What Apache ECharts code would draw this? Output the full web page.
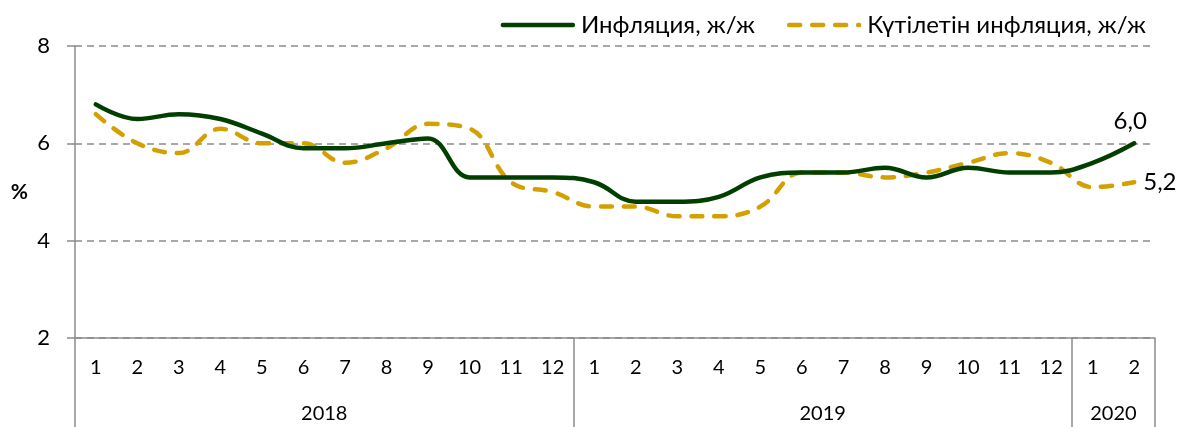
<!DOCTYPE html>
<html>
<head>
<meta charset="utf-8">
<script src="https://cdn.jsdelivr.net/npm/echarts@6/dist/echarts.min.js"></script>
<style>
html, body { margin: 0; padding: 0; background: #fff; }
#chart1 { width: 1186px; height: 427px; }
</style>
</head>
<body>
<div id="chart1"></div>
<script>
// months along the axis: 2018 (12), 2019 (12), 2020 (2)
var months = ['1','2','3','4','5','6','7','8','9','10','11','12',
	'1','2','3','4','5','6','7','8','9','10','11','12',
	'1','2'];
var years = ['2018', '2019', '2020'];
var yearStart = [0, 12, 24, 26];

var inflation = [6.8, 6.5, 6.6, 6.5, 6.2, 5.9, 5.9, 6.0, 6.1, 5.3, 5.3, 5.3,
	5.2, 4.8, 4.8, 4.9, 5.3, 5.4, 5.4, 5.5, 5.3, 5.5, 5.4, 5.4,
	5.6, 6.0];
var expected = [6.6, 6.0, 5.8, 6.3, 6.0, 6.0, 5.6, 5.9, 6.4, 6.3, 5.2, 5.0,
	4.7, 4.7, 4.5, 4.5, 4.7, 5.4, 5.4, 5.3, 5.4, 5.6, 5.8, 5.6,
	5.1, 5.2];

var seriesNames = ['Инфляция, ж/ж', 'Күтілетін инфляция, ж/ж'];

initChart();

// "6.0" -> "6,0"
function commaFmt(p) {
	return Number(p.value).toFixed(1).replace('.', ',');
}

function initChart() {
	var myChart = echarts.init(document.getElementById('chart1'));
	var gray = '#8c8c8c';
	// label positions for year groups: middle of each group
	var yearMid = [];
	for (var k = 0; k < years.length; k++) {
		yearMid.push((yearStart[k] + yearStart[k + 1]) / 2);
	}
	var option = {
		animation : false,
		textStyle : { fontFamily : 'Lato' },
		legend : {
			top : 8,
			right : 35,
			itemWidth : 70,
			itemHeight : 14,
			itemGap : 32,
			itemStyle : { opacity : 0 },
			lineStyle : { width : 4.5, cap : 'round' },
			textStyle : { fontSize : 24, color : '#000', fontFamily : 'Lato', padding : [0, 0, 0, 3] },
			data : seriesNames
		},
		grid : { left : 75, right : 31, top : 46, bottom : 89 },
		xAxis : [ {
			type : 'category',
			data : months,
			boundaryGap : true,
			axisLine : { lineStyle : { color : gray, width : 1.5 } },
			axisTick : { interval : 0, length : 47, lineStyle : { color : gray, width : 1.5 } },
			axisLabel : { interval : 0, margin : 20, fontSize : 20, color : '#000', fontFamily : 'Lato' }
		}, {
			type : 'value',
			min : 0,
			max : months.length,
			position : 'bottom',
			splitLine : { show : false },
			axisLine : { show : false },
			axisTick : { show : true, length : 89, customValues : yearStart,
				lineStyle : { color : gray, width : 1.5 } },
			axisLabel : { customValues : yearMid, margin : 66, fontSize : 20, color : '#000',
				fontFamily : 'Lato',
				formatter : function(v) { return years[yearMid.indexOf(v)]; } }
		} ],
		yAxis : {
			type : 'value',
			min : 2,
			max : 8,
			interval : 2,
			name : '%',
			nameLocation : 'middle',
			nameRotate : 0,
			nameGap : 47,
			nameTextStyle : { fontSize : 21, fontWeight : 'bold', color : '#000' },
			axisLine : { show : true, lineStyle : { color : gray, width : 1.5 } },
			axisTick : { show : true, length : 8, lineStyle : { color : gray, width : 1.5 } },
			axisLabel : { margin : 25, fontSize : 22, color : '#000', fontFamily : 'Lato' },
			splitLine : { lineStyle : { color : gray, type : [7, 5], width : 1.5 } }
		},
		series : [ {
			name : seriesNames[0],
			type : 'line',
			smooth : 0.4,
			symbol : 'none',
			z : 3,
			lineStyle : { color : '#003f00', width : 4.5, cap : 'round' },
			itemStyle : { color : '#003f00' },
			endLabel : { show : true, formatter : commaFmt, fontSize : 24, color : '#000',
				fontFamily : 'Lato', distance : 0, align : 'center', offset : [-4, -22] },
			data : inflation
		}, {
			name : seriesNames[1],
			type : 'line',
			smooth : 0.4,
			symbol : 'none',
			z : 2,
			lineStyle : { color : '#d4a000', width : 4.5, type : [11, 12], cap : 'round' },
			itemStyle : { color : '#d4a000' },
			endLabel : { show : true, formatter : commaFmt, fontSize : 24, color : '#000',
				fontFamily : 'Lato', distance : 9 },
			data : expected
		} ]
	};
	myChart.setOption(option);
}
</script>
</body>
</html>
